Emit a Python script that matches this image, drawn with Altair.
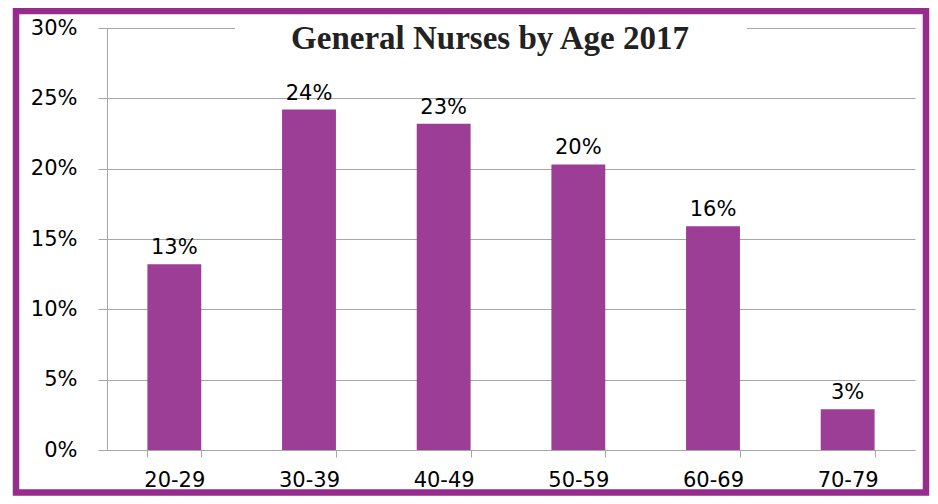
import altair as alt
import pandas as pd

# ---- data ----
age_groups = ["20-29", "30-39", "40-49", "50-59", "60-69", "70-79"]
shares = [0.132, 0.242, 0.232, 0.203, 0.159, 0.029]
title_text = "General Nurses by Age 2017"

BAR = "#9C3D96"
FRAME = "#962D8C"
GRID = "#A6A6A6"
LABEL_FONT = "DejaVu Sans"

df = pd.DataFrame({"age": age_groups, "share": shares})
one = alt.Data(values=[{"t": title_text}])

x_enc = alt.X(
    "age:N",
    sort=age_groups,
    scale=alt.Scale(paddingInner=0.6, paddingOuter=0.3),
    axis=alt.Axis(
        title=None, labelAngle=0, grid=False, tickBand="extent", tickSize=7,
        labelPadding=12, domainColor=GRID, tickColor=GRID,
        labelFont=LABEL_FONT, labelFontSize=21, labelColor="black",
    ),
)
y_enc = alt.Y(
    "share:Q",
    scale=alt.Scale(domain=[0, 0.3], nice=False),
    axis=alt.Axis(
        title=None, values=[0, 0.05, 0.1, 0.15, 0.2, 0.25, 0.3], format=".0%",
        grid=True, gridColor=GRID, domainColor=GRID, tickColor=GRID, tickSize=9,
        labelPadding=21, labelFont=LABEL_FONT, labelFontSize=21, labelColor="black",
    ),
)

frame = alt.Chart(one).mark_rect(filled=False, stroke=FRAME, strokeWidth=6.5).encode(
    x=alt.value(-91), x2=alt.value(819), y=alt.value(-17), y2=alt.value(464.5)
)
title_box = alt.Chart(one).mark_rect(fill="white", stroke=None).encode(
    x=alt.value(128), x2=alt.value(640), y=alt.value(-13), y2=alt.value(32)
)
title = alt.Chart(one).mark_text(
    font="Liberation Serif", fontSize=33, fontWeight="bold", color="#222222",
    align="center", baseline="alphabetic",
).encode(x=alt.value(383), y=alt.value(21), text="t:N")

bars = alt.Chart(df).mark_bar(color=BAR).encode(x=x_enc, y=y_enc)
labels = alt.Chart(df).mark_text(
    dy=-10, baseline="alphabetic", font=LABEL_FONT, fontSize=21, color="black"
).encode(
    x=alt.X("age:N", sort=age_groups),
    y="share:Q",
    text=alt.Text("share:Q", format=".0%"),
)

chart = alt.layer(frame, bars, title_box, title, labels).properties(
    width=808,
    height=422,
    autosize=alt.AutoSizeParams(type="none"),
    padding={"left": 99, "top": 20, "right": 15, "bottom": 46},
    background="white",
).configure_view(stroke=None)

chart.save("out.html", embed_options={"renderer": "svg", "actions": False})
